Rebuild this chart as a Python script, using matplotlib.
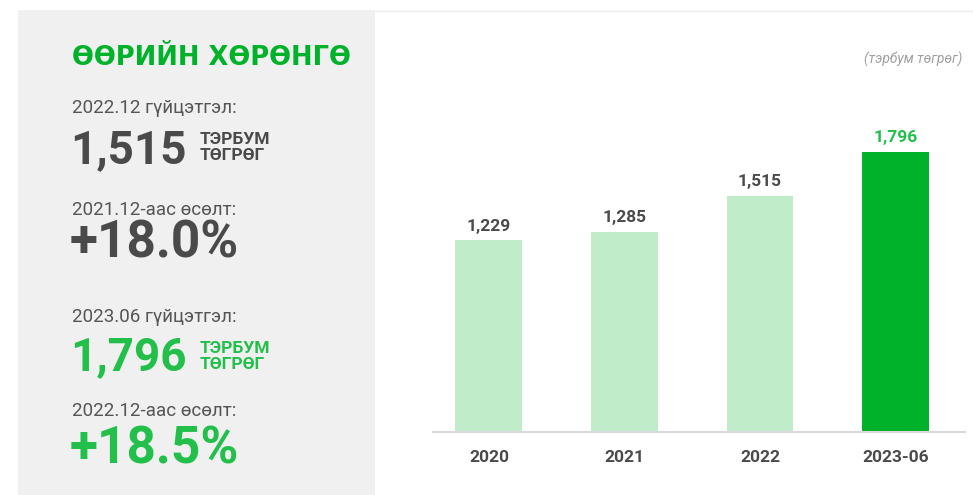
import matplotlib.pyplot as plt
from matplotlib.patches import Rectangle
from matplotlib.lines import Line2D

plt.rcParams['font.family'] = ['Roboto', 'Noto Sans', 'DejaVu Sans']

# data
categories = ['2020', '2021', '2022', '2023-06']
values = [1229, 1285, 1515, 1796]
value_labels = ['1,229', '1,285', '1,515', '1,796']

title = 'ӨӨРИЙН ХӨРӨНГӨ'
unit_note = '(тэрбум төгрөг)'
unit_big = 'ТЭРБУМ\nТӨГРӨГ'
kpi_caption_1 = '2022.12 гүйцэтгэл:'
kpi_value_1 = '1,515'
kpi_growth_caption_1 = '2021.12-аас өсөлт:'
kpi_growth_1 = '+18.0%'
kpi_caption_2 = '2023.06 гүйцэтгэл:'
kpi_value_2 = '1,796'
kpi_growth_caption_2 = '2022.12-аас өсөлт:'
kpi_growth_2 = '+18.5%'

W, H = 973, 495
GREEN = '#00b22a'
GREEN_TXT = '#22c04a'
LIGHT = '#c0ecca'
DARK = '#4a4a4a'
MID = '#555555'


def fx(px):
    return px / W


def fy(py):
    return 1 - py / H


fig = plt.figure(figsize=(W / 100, H / 100), dpi=100)
fig.patch.set_facecolor('white')

# left grey panel and top rule
fig.add_artist(Rectangle((fx(18), fy(495)), fx(375) - fx(18), fy(10) - fy(495),
                         transform=fig.transFigure, facecolor='#f0f0f0', edgecolor='none', zorder=0))
fig.add_artist(Line2D([fx(375), fx(973)], [fy(11), fy(11)], transform=fig.transFigure,
                      color='#ececec', lw=1))

# left panel texts
fig.text(fx(72), fy(65), title, color=GREEN, fontsize=18.5, fontweight='bold', va='baseline',
         family=['DejaVu Sans'])

fig.text(fx(72), fy(113), kpi_caption_1, color=MID, fontsize=13.5, va='baseline')
fig.text(fx(70), fy(163), kpi_value_1, color=DARK, fontsize=33, fontweight='bold', va='baseline')
fig.text(fx(200), fy(160), unit_big, color=DARK, fontsize=12.5, fontweight='bold',
         va='baseline', linespacing=1.05)
fig.text(fx(72), fy(215), kpi_growth_caption_1, color=MID, fontsize=13.5, va='baseline')
fig.text(fx(70), fy(257), kpi_growth_1, color=DARK, fontsize=37, fontweight='bold', va='baseline')

fig.text(fx(72), fy(322), kpi_caption_2, color=MID, fontsize=13.5, va='baseline')
fig.text(fx(70), fy(370), kpi_value_2, color=GREEN_TXT, fontsize=33, fontweight='bold', va='baseline')
fig.text(fx(200), fy(369), unit_big, color=GREEN_TXT, fontsize=12.5, fontweight='bold',
         va='baseline', linespacing=1.05)
fig.text(fx(72), fy(416), kpi_growth_caption_2, color=MID, fontsize=13.5, va='baseline')
fig.text(fx(70), fy(463), kpi_growth_2, color=GREEN_TXT, fontsize=37, fontweight='bold', va='baseline')

fig.text(fx(962), fy(64), unit_note, color='#a0a0a0', fontsize=10, style='italic',
         ha='right', va='baseline')

# bar chart
ax = fig.add_axes([fx(433), fy(432), fx(965) - fx(433), fy(60) - fy(432)])
ax.set_facecolor('none')
colors = [LIGHT, LIGHT, LIGHT, GREEN]
x = range(len(categories))
ax.bar(x, values, width=0.494, color=colors)
ax.set_xlim(-0.413, 3.513)
ax.set_ylim(0, 2386)

for i, (v, lab) in enumerate(zip(values, value_labels)):
    ax.annotate(lab, (i, v), xytext=(0, 7), textcoords='offset points', ha='center',
                va='baseline', fontsize=12.5, fontweight='bold',
                color=GREEN_TXT if i == len(values) - 1 else DARK)

ax.set_xticks(list(x))
ax.set_xticklabels(categories, fontsize=12.5, fontweight='bold', color=DARK)
ax.tick_params(axis='x', length=0, pad=13)
ax.set_yticks([])
for s in ['top', 'left', 'right']:
    ax.spines[s].set_visible(False)
ax.spines['bottom'].set_color('#dadade')
ax.spines['bottom'].set_linewidth(1.5)

fig.savefig('out.png', dpi=100)
